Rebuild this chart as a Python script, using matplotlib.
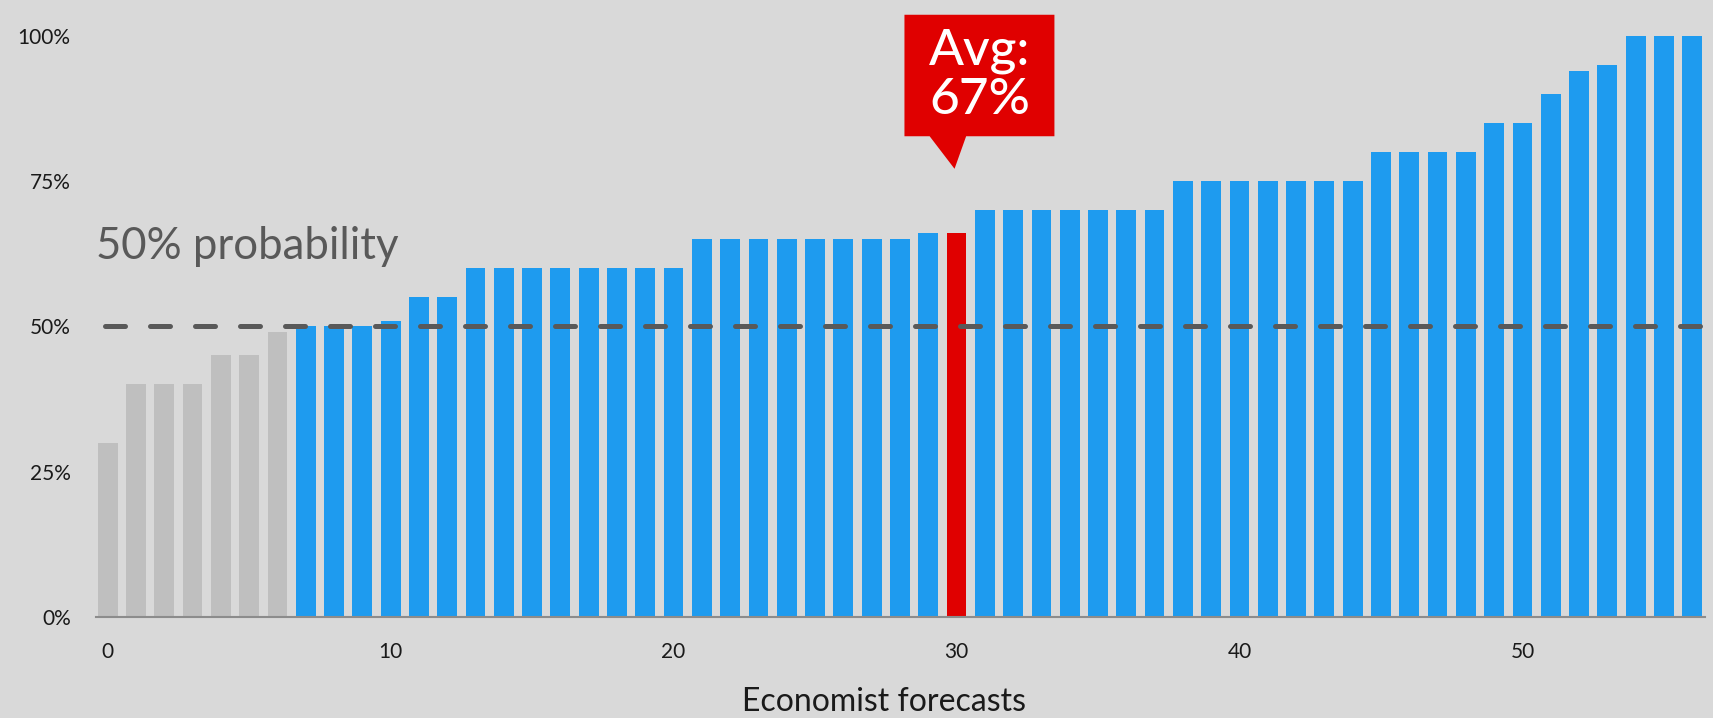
import matplotlib
matplotlib.use("Agg")
import matplotlib.pyplot as plt
from matplotlib.patches import Polygon
import numpy as np

plt.rcParams['font.family'] = ['Lato', 'DejaVu Sans']

# forecast probabilities (%) sorted low to high
forecasts = [30, 40, 40, 40, 45, 45, 49, 50, 50, 50,
             51, 55, 55, 60, 60, 60, 60, 60, 60, 60,
             60, 65, 65, 65, 65, 65, 65, 65, 65, 66,
             66, 70, 70, 70, 70, 70, 70, 70, 75, 75,
             75, 75, 75, 75, 75, 80, 80, 80, 80, 85,
             85, 90, 94, 95, 100, 100, 100]
threshold = 50
avg_idx = 30
avg_label = "Avg:\n67%"
y_ticks = [0, 25, 50, 75, 100]
x_ticks = [0, 10, 20, 30, 40, 50]

bg = '#d9d9d9'
blue = '#1e9bef'
grey = '#bfbfbf'
red = '#e00000'
dark = '#595959'

x = np.arange(len(forecasts))
colors = []
for i, v in enumerate(forecasts):
    if i == avg_idx:
        colors.append(red)
    elif v < threshold:
        colors.append(grey)
    else:
        colors.append(blue)

fig = plt.figure(figsize=(17.13, 7.18), dpi=100, facecolor=bg)
ax = fig.add_axes([0.0559, 0.1407, 0.9394, 0.8096])
ax.set_facecolor(bg)

ax.bar(x, forecasts, width=0.7, color=colors, zorder=2)

# 50% reference line
ln = ax.hlines(threshold, -0.1, len(forecasts) - 0.55, colors=dark,
               linewidth=3.6, zorder=3)
ln.set_linestyle((0, (4.0, 5.0)))
ln.set_capstyle('round')

ax.text(-0.4, 61.5, "50% probability", fontsize=31.5, color=dark,
        ha='left', va='baseline', zorder=4)

# avg callout
bx0, bx1 = avg_idx - 1.84, avg_idx + 3.46
by0, by1 = 82.7, 103.6
box = Polygon([(bx0, by0), (bx0, by1), (bx1, by1), (bx1, by0),
               (avg_idx + 0.34, by0), (avg_idx - 0.07, 77.1),
               (avg_idx - 0.95, by0)],
              closed=True, facecolor=red, edgecolor='none',
              clip_on=False, zorder=5)
ax.add_patch(box)
ax.text((bx0 + bx1) / 2, (by0 + by1) / 2, avg_label, color='white',
        fontsize=37, fontweight='medium', ha='center', va='center',
        linespacing=1.08, zorder=6, clip_on=False)

ax.set_xlim(-0.42, len(forecasts) - 0.55)
ax.set_ylim(0, 100)
ax.set_yticks(y_ticks)
ax.set_yticklabels([f"{t}%" for t in y_ticks])
ax.set_xticks(x_ticks)
ax.tick_params(axis='both', length=0, labelsize=15, colors='#1a1a1a')
ax.tick_params(axis='x', pad=18)
ax.tick_params(axis='y', pad=18)

for s in ['top', 'right', 'left']:
    ax.spines[s].set_visible(False)
ax.spines['bottom'].set_color('#8c8c8c')
ax.spines['bottom'].set_linewidth(1.5)

ax.set_xlabel("Economist forecasts", fontsize=23, color='#1a1a1a')
ax.xaxis.set_label_coords(0.49, -0.12)

fig.savefig('out.png', dpi=100, facecolor=bg)
